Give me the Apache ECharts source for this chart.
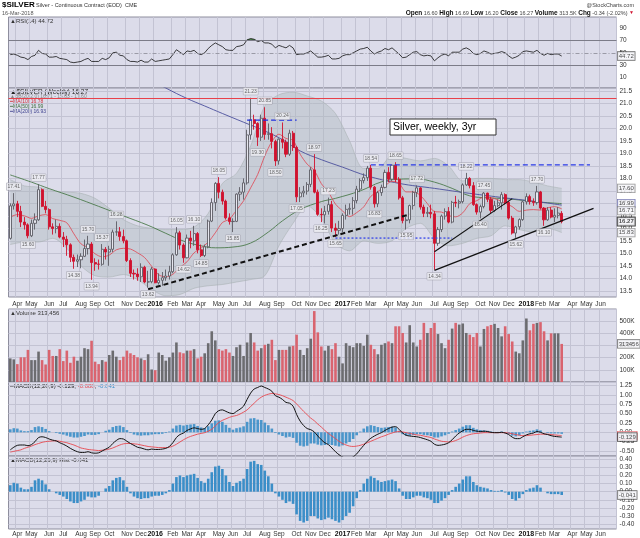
<!DOCTYPE html>
<html>
<head>
<meta charset="utf-8">
<script src="https://cdn.jsdelivr.net/npm/echarts@6/dist/echarts.min.js"></script>
<style>
html,body{margin:0;padding:0;background:#ffffff;}
#chart{width:640px;height:538px;}
</style>
</head>
<body>
<div id="chart"></div>
<script>
// ================= DATA =================
const startDate = '2015-03-20';   // first weekly bar (Friday)
const slotCount = 172;            // weekly slots on the axis (bars + empty space on the right)
const monthNames = ['Jan','Feb','Mar','Apr','May','Jun','Jul','Aug','Sep','Oct','Nov','Dec'];

const opens = [
15.60,16.90,16.98,16.68,16.25,16.14,15.70,16.20,16.34,17.55,
16.88,16.75,16.06,15.99,16.08,15.65,15.56,15.34,14.84,14.68,
14.74,14.88,15.19,15.37,14.63,14.57,14.56,15.16,15.05,15.16,
15.85,15.86,15.67,15.50,14.71,14.20,14.17,14.06,14.44,13.85,
13.86,14.37,13.82,13.92,14.02,14.09,14.26,14.94,15.82,15.33,
14.82,15.61,15.50,15.79,15.14,14.91,15.26,16.29,17.03,17.80,
17.45,17.09,16.42,16.27,16.28,17.37,17.45,17.82,19.74,20.35,
20.20,19.65,20.41,19.76,19.79,19.48,18.70,19.57,19.45,18.97,
19.81,19.24,17.26,17.42,17.49,17.76,18.34,17.45,16.56,16.54,
16.68,16.95,16.01,15.92,15.99,16.52,16.76,16.80,17.11,17.57,
17.91,18.03,18.41,17.65,16.98,17.43,17.64,18.24,17.97,18.53,
17.96,17.22,16.31,16.34,16.91,17.44,17.62,16.85,16.60,16.64,
16.58,15.40,15.95,16.49,16.67,16.25,17.04,17.01,17.07,17.74,
18.00,17.71,16.95,16.65,16.87,17.41,17.16,16.72,16.91,17.02,
17.35,17.04,16.41,15.81,16.06,16.35,17.06,17.27,17.07,17.03,
17.46,16.81,16.34,16.73,16.45,16.52,16.60];
const highs = [
17.00,17.41,17.10,16.90,16.45,16.20,16.35,16.60,17.77,17.60,
17.10,16.80,16.20,16.35,16.20,15.85,15.70,15.40,14.95,14.95,
15.00,15.55,15.70,15.45,14.80,14.75,15.37,15.25,15.30,15.95,
16.28,16.05,15.95,15.55,14.80,14.35,14.40,14.60,14.50,14.30,
14.45,14.40,14.20,14.25,14.35,14.50,15.00,16.05,15.90,15.40,
15.75,15.90,16.10,15.85,15.35,15.35,16.35,17.20,17.85,18.05,
17.55,17.15,16.60,16.40,17.40,17.65,18.00,19.95,21.23,20.55,
20.25,20.55,20.85,20.20,20.05,19.55,19.60,20.24,19.55,19.95,
19.90,19.30,17.65,17.70,17.85,18.45,18.97,17.55,16.80,16.90,
17.23,17.10,16.20,16.30,16.60,16.95,17.00,17.25,17.70,18.00,
18.20,18.50,18.54,17.70,17.50,17.75,18.35,18.45,18.55,18.65,
18.05,17.30,16.45,16.95,17.50,17.72,17.65,16.95,16.85,16.95,
16.70,16.05,16.55,16.80,16.85,17.10,17.30,17.15,17.80,18.22,
18.05,17.85,17.00,16.95,17.45,17.43,17.25,17.10,17.15,17.45,
17.40,17.10,16.50,16.10,16.40,17.10,17.40,17.35,17.20,17.70,
17.50,16.85,16.85,16.85,16.80,16.85,16.69];
const lows = [
15.55,16.75,16.45,16.05,15.95,15.60,15.65,15.95,16.30,16.85,
16.60,15.95,15.75,15.80,15.60,15.25,14.90,14.65,14.38,14.45,
14.40,14.85,14.95,13.94,14.30,14.35,14.50,14.75,14.50,15.05,
15.70,15.50,15.40,14.65,14.05,13.95,13.90,13.85,13.80,13.62,
13.80,13.80,13.75,13.70,13.90,13.95,14.20,14.90,15.15,14.62,
14.80,15.20,15.30,15.00,14.85,14.85,15.20,16.25,16.70,17.20,
16.95,16.35,16.15,15.85,16.25,17.10,17.15,17.75,19.55,19.95,
19.30,19.50,19.55,19.55,19.20,18.50,18.55,19.20,18.85,18.90,
19.10,17.05,17.05,17.25,17.35,17.65,17.40,16.50,16.25,16.20,
16.55,15.85,15.65,15.75,15.85,16.35,16.55,16.55,17.00,17.45,
17.80,17.90,17.55,16.83,16.85,17.30,17.60,17.85,17.90,17.85,
17.15,16.20,15.95,16.20,16.75,17.25,16.75,16.45,16.45,16.40,
14.34,15.30,15.85,16.35,16.20,16.20,16.85,16.80,17.00,17.70,
17.60,16.90,16.55,16.40,16.80,17.05,16.60,16.65,16.85,16.75,
16.95,16.35,15.75,15.62,15.95,16.30,16.95,16.95,16.90,16.95,
16.75,16.10,16.30,16.40,16.25,16.40,16.20];
const closes = [
16.90,16.98,16.68,16.25,16.14,15.70,16.20,16.34,17.55,16.88,
16.75,16.06,15.99,16.08,15.65,15.56,15.34,14.84,14.68,14.74,
14.88,15.19,15.37,14.63,14.57,14.56,15.16,15.05,15.16,15.85,
15.86,15.67,15.50,14.71,14.20,14.17,14.06,14.44,13.85,13.86,
14.37,13.82,13.92,14.02,14.09,14.26,14.94,15.82,15.33,14.82,
15.61,15.50,15.79,15.14,14.91,15.26,16.29,17.03,17.80,17.45,
17.09,16.42,16.27,16.28,17.37,17.45,17.82,19.74,20.35,20.20,
19.65,20.41,19.76,19.79,19.48,18.70,19.57,19.45,18.97,19.81,
19.24,17.26,17.42,17.49,17.76,18.34,17.45,16.56,16.54,16.68,
16.95,16.01,15.92,15.99,16.52,16.76,16.80,17.11,17.57,17.91,
18.03,18.41,17.65,16.98,17.43,17.64,18.24,17.97,18.53,17.96,
17.22,16.31,16.34,16.91,17.44,17.62,16.85,16.60,16.64,16.58,
15.40,15.95,16.49,16.67,16.25,17.04,17.01,17.07,17.74,18.00,
17.71,16.95,16.65,16.87,17.41,17.16,16.72,16.91,17.02,17.35,
17.04,16.41,15.81,16.06,16.35,17.06,17.27,17.07,17.03,17.46,
16.81,16.34,16.73,16.45,16.52,16.61,16.27];
const volumesK = [
194,186,147,203,203,264,180,180,250,180,
144,264,214,214,270,172,258,158,208,175,
208,278,270,339,167,147,180,167,222,258,
208,180,208,258,236,222,203,194,180,228,
103,97,242,222,175,203,242,325,244,236,
258,258,270,194,208,236,319,417,342,270,
258,270,242,214,286,306,214,325,403,325,
258,278,306,314,347,180,264,264,264,292,
297,389,264,222,278,356,583,408,292,258,
297,270,319,208,153,319,297,286,319,319,
297,389,306,270,228,306,319,333,319,458,
458,403,325,467,325,292,347,486,403,444,
486,394,319,278,347,439,486,472,481,403,
389,369,403,292,436,458,469,478,444,375,
458,394,333,250,236,342,522,425,478,486,
492,417,342,400,400,400,313];
const rsi = [
47,48,46,43,42,39,44,46,54,49,
48,43,43,44,41,40,39,35,34,35,
36,39,41,36,36,36,41,39,42,50,
51,46,45,39,36,36,35,38,35,35,
40,36,37,38,39,40,47,55,51,47,
53,52,54,49,47,50,57,62,66,63,
60,55,54,54,60,61,63,71,73,72,
68,70,66,66,64,58,62,60,58,62,
58,47,48,48,50,53,48,43,43,44,
46,40,40,41,45,47,47,50,53,56,
57,59,53,48,51,53,57,55,58,53,
48,42,43,47,51,52,47,45,46,45,
37,42,46,48,45,51,51,51,56,58,
55,49,47,49,53,51,48,49,50,52,
50,45,41,43,46,52,53,52,51,54,
49,46,49,47,48,48,44.72];
const macd = [
-0.47,-0.40,-0.35,-0.34,-0.34,-0.36,-0.33,-0.25,-0.14,-0.12,
-0.14,-0.18,-0.21,-0.23,-0.28,-0.32,-0.37,-0.43,-0.48,-0.52,
-0.54,-0.54,-0.52,-0.55,-0.56,-0.55,-0.50,-0.45,-0.40,-0.30,
-0.22,-0.17,-0.18,-0.24,-0.30,-0.35,-0.40,-0.42,-0.45,-0.47,
-0.45,-0.46,-0.46,-0.45,-0.43,-0.38,-0.28,-0.14,-0.06,-0.02,
0.05,0.09,0.12,0.10,0.08,0.10,0.20,0.33,0.50,0.58,
0.60,0.56,0.52,0.50,0.56,0.62,0.70,0.88,1.05,1.16,
1.20,1.24,1.20,1.16,1.10,0.98,0.94,0.88,0.80,0.78,
0.70,0.48,0.30,0.18,0.10,0.07,0.01,-0.10,-0.20,-0.28,
-0.33,-0.42,-0.52,-0.60,-0.66,-0.70,-0.70,-0.66,-0.58,-0.46,
-0.35,-0.24,-0.16,-0.10,-0.05,-0.01,0.05,0.10,0.14,0.15,
0.08,-0.02,-0.08,-0.10,-0.11,-0.12,-0.14,-0.17,-0.20,-0.24,
-0.32,-0.35,-0.34,-0.32,-0.28,-0.20,-0.10,-0.02,0.04,0.08,
0.08,0.05,0.03,0.02,0.03,0.02,0.00,-0.01,-0.01,0.00,
-0.02,-0.06,-0.13,-0.17,-0.17,-0.12,-0.07,-0.04,-0.02,0.02,
0.00,-0.04,-0.06,-0.09,-0.11,-0.12,-0.129];
const signal = [
-0.53,-0.51,-0.49,-0.47,-0.43,-0.40,-0.37,-0.33,-0.30,-0.27,
-0.25,-0.24,-0.23,-0.23,-0.24,-0.26,-0.28,-0.31,-0.34,-0.38,
-0.42,-0.44,-0.46,-0.47,-0.48,-0.49,-0.48,-0.47,-0.45,-0.42,
-0.38,-0.34,-0.31,-0.30,-0.30,-0.31,-0.32,-0.34,-0.36,-0.38,
-0.39,-0.40,-0.41,-0.41,-0.41,-0.40,-0.37,-0.32,-0.26,-0.20,
-0.15,-0.11,-0.08,-0.05,-0.03,-0.01,0.03,0.08,0.17,0.26,
0.32,0.36,0.40,0.43,0.45,0.49,0.54,0.60,0.69,0.78,
0.87,0.94,0.99,1.02,1.04,1.03,1.01,0.98,0.94,0.90,
0.85,0.76,0.66,0.56,0.47,0.38,0.31,0.22,0.14,0.05,
-0.03,-0.10,-0.17,-0.24,-0.30,-0.34,-0.37,-0.38,-0.37,-0.35,
-0.32,-0.28,-0.24,-0.20,-0.16,-0.12,-0.09,-0.05,-0.02,0.01,
0.02,0.01,-0.01,-0.03,-0.05,-0.07,-0.08,-0.10,-0.12,-0.14,
-0.18,-0.21,-0.24,-0.25,-0.26,-0.25,-0.22,-0.18,-0.13,-0.09,
-0.06,-0.04,-0.03,-0.02,-0.01,-0.01,-0.01,-0.01,-0.01,-0.01,
-0.01,-0.02,-0.04,-0.06,-0.08,-0.09,-0.09,-0.08,-0.07,-0.06,
-0.05,-0.05,-0.05,-0.06,-0.07,-0.08,-0.088];
const hist = [
0.08,0.11,0.10,0.05,0.03,0.03,0.06,0.14,0.16,0.14,
0.09,0.03,0.00,-0.02,-0.04,-0.06,-0.09,-0.12,-0.14,-0.14,
-0.12,-0.10,-0.06,-0.07,-0.07,-0.05,0.00,0.04,0.07,0.14,
0.17,0.18,0.14,0.06,-0.02,-0.06,-0.08,-0.09,-0.08,-0.08,
-0.06,-0.05,-0.05,-0.04,-0.02,0.02,0.10,0.18,0.20,0.18,
0.20,0.21,0.22,0.17,0.13,0.11,0.16,0.24,0.31,0.32,
0.28,0.20,0.12,0.07,0.11,0.13,0.16,0.28,0.37,0.38,
0.34,0.33,0.26,0.19,0.10,-0.02,-0.06,-0.10,-0.14,-0.12,
-0.15,-0.28,-0.36,-0.38,-0.36,-0.30,-0.30,-0.33,-0.35,-0.34,
-0.32,-0.34,-0.36,-0.38,-0.35,-0.30,-0.26,-0.18,-0.08,0.02,
0.10,0.16,0.19,0.17,0.14,0.12,0.13,0.14,0.15,0.13,
0.04,-0.05,-0.09,-0.09,-0.07,-0.05,-0.05,-0.07,-0.08,-0.10,
-0.14,-0.14,-0.11,-0.08,-0.04,0.02,0.06,0.10,0.15,0.19,
0.19,0.12,0.08,0.06,0.05,0.04,0.02,0.01,0.01,0.02,
-0.01,-0.04,-0.09,-0.11,-0.08,-0.03,0.02,0.04,0.05,0.08,
0.05,0.00,-0.02,-0.03,-0.03,-0.03,-0.041];

// overlay lines: [week index, price]
const ma10Pts = [[0,16.45],[2,16.55],[4,16.5],[6,16.4],[8,16.5],[10,16.55],[12,16.39],[14,16.32],[16,16.22],[18,15.78],[20,15.38],[22,15.23],[24,14.98],[26,14.86],[28,14.93],[30,15.14],[32,15.2],[34,15.17],[36,15.02],[38,14.83],[40,14.48],[42,14.14],[44,14.06],[46,14.16],[48,14.44],[50,14.66],[52,15.02],[54,15.21],[56,15.45],[58,15.82],[60,16.23],[62,16.37],[64,16.73],[66,17.1],[68,17.62],[70,18.16],[72,18.9],[74,19.47],[76,19.77],[78,19.6],[80,19.52],[82,18.97],[84,18.57],[86,18.32],[88,17.79],[90,17.45],[92,16.97],[94,16.7],[96,16.47],[98,16.63],[100,16.86],[102,17.28],[104,17.47],[106,17.7],[108,17.88],[110,17.8],[112,17.46],[114,17.46],[116,17.32],[118,16.99],[120,16.67],[122,16.65],[124,16.51],[126,16.46],[128,16.62],[130,16.99],[132,17.11],[134,17.25],[136,17.23],[138,17.14],[140,17.01],[142,16.87],[144,16.68],[146,16.73],[148,16.75],[150,16.73],[152,16.82],[154,16.87],[156,16.78]];
const ma50Pts = [[0,18.14],[6,17.85],[11,17.59],[18,17.25],[25,16.88],[32,16.5],[39,16.12],[44,15.8],[49,15.49],[54,15.3],[58,15.22],[63,15.25],[68,15.41],[73,15.85],[77,16.3],[82,16.75],[88,17.07],[92,17.2],[99,17.5],[105,17.86],[110,17.97],[115,17.98],[120,17.85],[125,17.6],[130,17.3],[135,17.22],[140,17.19],[145,17.12],[150,17.05],[156,16.99]];
const ma200Pts = [[40,21.95],[44,21.62],[50,21.2],[55,20.9],[60,20.6],[66,20.25],[72,19.9],[77,19.55],[82,19.1],[88,18.75],[94,18.45],[101,18.1],[110,17.8],[120,17.6],[130,17.4],[140,17.22],[150,17.05],[156,16.93]];
const bbUpperPts = [[0,17.95],[4,17.7],[8,17.65],[12,17.5],[16,17.45],[20,17.4],[24,17.2],[28,16.8],[32,16.35],[36,16.1],[40,16.0],[44,15.95],[48,15.95],[52,16.05],[56,16.6],[60,17.8],[64,18.2],[68,19.3],[72,20.9],[76,21.35],[80,21.45],[84,21.3],[88,21.1],[92,20.6],[96,19.5],[100,18.4],[104,18.4],[108,18.9],[112,18.8],[116,18.7],[120,18.8],[124,18.5],[128,17.9],[132,18.0],[136,18.0],[140,17.95],[144,17.95],[148,17.85],[152,17.7],[156,17.6]];
const bbLowerPts = [[0,15.35],[4,15.45],[8,15.45],[12,15.6],[16,15.2],[20,14.5],[24,14.1],[28,14.05],[32,14.15],[36,13.95],[40,13.55],[44,13.3],[48,13.35],[52,13.6],[56,13.7],[60,13.75],[64,13.85],[68,13.95],[72,14.1],[76,15.3],[80,16.2],[84,16.9],[88,16.4],[92,15.4],[96,15.1],[100,15.5],[104,15.4],[108,15.5],[112,16.0],[116,16.2],[120,15.6],[124,15.3],[128,15.4],[132,15.6],[136,15.7],[140,16.1],[144,15.95],[148,15.85],[152,16.0],[156,15.83]];
const bbMidLast = 16.71;

// annotations drawn on the price panel: [week index, price]
const redLevel = 21.21;
const trendDashed = [[39,13.56],[113,16.56]];
const trendSolidA = [[120,15.06],[142,17.19]];
const trendSolidB = [[120,14.32],[165,16.80]];
const resistShort = [[67,20.33],[81,20.33]];
const resistLong = [[102,18.54],[164,18.54]];
const supportDotted = [[92,15.61],[125,15.61]];

// pivot value labels
const pivotHighs = [[1,17.41],[8,17.77],[22,15.70],[26,15.37],[30,16.28],[47,16.05],[52,16.10],[59,18.05],[68,21.23],[72,20.85],[77,20.24],[86,18.97],[90,17.23],[102,18.54],[109,18.65],[115,17.72],[129,18.22],[134,17.45],[149,17.70]];
const pivotLows = [[5,15.60],[18,14.38],[23,13.94],[39,13.62],[49,14.62],[54,14.85],[63,15.85],[70,19.30],[75,18.50],[81,17.05],[88,16.25],[92,15.65],[103,16.83],[112,15.95],[120,14.34],[133,16.40],[143,15.62],[151,16.10]];

// axis tick labels
const rsiTicks = [10,30,50,70,90];
const priceTicks = [13.5,14.0,14.5,15.0,15.5,16.0,16.5,17.0,17.5,18.0,18.5,19.0,19.5,20.0,20.5,21.0,21.5];
const macdTicks = [-0.5,-0.25,0,0.25,0.5,0.75,1.0,1.25];
const histTicks = [-0.4,-0.3,-0.2,-0.1,0,0.1,0.2,0.3,0.4];

// ================= BUILD =================
const categories = [];
(function(){
  const t0 = Date.parse(startDate + 'T00:00:00Z');
  for (let i = 0; i < slotCount; i++) categories.push(new Date(t0 + i * 7 * 864e5).toISOString().slice(0, 10));
})();
const isMonthStart = (i) => i > 0 && categories[i].slice(5, 7) !== categories[i - 1].slice(5, 7);
const lastSlot = slotCount - 1;
const nBars = closes.length;

const FONT = '"Liberation Sans", Arial, sans-serif';
const BG = '#dcdcea';
const GRIDC = '#c3c3d3';
const BORDER = '#8e8e9e';
const RED = '#d0122e';
const VRED = '#d9646f';
const VGRAY = '#6c6c70';
const BLUE = '#3b8ec8';

const L = 8.5, W = 608;
const grids = [
  {top: 17, height: 71},
  {top: 88, height: 209},
  {top: 309, height: 73},
  {top: 382, height: 74},
  {top: 456, height: 74}
].map(g => Object.assign({left: L, width: W, show: true, backgroundColor: BG, borderColor: BORDER, borderWidth: 1}, g));

function mkX(gi, showLabel, margin) {
  return {
    type: 'category', gridIndex: gi, data: categories, boundaryGap: true,
    axisLine: {show: false}, axisTick: {show: false},
    axisLabel: {
      show: showLabel, margin: margin, fontSize: 6.5, color: '#333', fontFamily: FONT,
      interval: (i) => isMonthStart(i),
      formatter: (v) => {
        const m = +v.slice(5, 7);
        return m === 1 ? '{y|' + v.slice(0, 4) + '}' : monthNames[m - 1];
      },
      rich: {y: {fontWeight: 'bold', fontSize: 7, color: '#111', fontFamily: FONT}}
    },
    splitLine: {show: true, interval: (i) => isMonthStart(i), lineStyle: {color: GRIDC, width: 1}}
  };
}
function mkY(gi, o) {
  return Object.assign({
    type: 'value', gridIndex: gi, position: 'right', scale: false,
    axisLine: {show: false},
    axisLabel: {fontSize: 6.5, color: '#333', margin: 3, fontFamily: FONT},
    splitLine: {show: true, lineStyle: {color: GRIDC, width: 1}}
  }, o);
}

const candleData = opens.map((o, i) => [o, closes[i], lows[i], highs[i]]);
const volData = volumesK.map((v, i) => ({
  value: v,
  itemStyle: {color: closes[i] < (i ? closes[i - 1] : opens[0]) ? VRED : VGRAY}
}));
const bbDiff = bbUpperPts.map((p, k) => [p[0], +(p[1] - bbLowerPts[k][1]).toFixed(3)]);
const rsiAbove = rsi.map(v => Math.max(v, 70));

function annot(data, color, width, type) {
  return {type: 'line', xAxisIndex: 1, yAxisIndex: 1, data: data, symbol: 'none', silent: true, z: 6,
    lineStyle: {color: color, width: width, type: type}};
}
function tag(xi, yi, value, text, border, bold) {
  return {type: 'scatter', xAxisIndex: xi, yAxisIndex: yi, data: [[lastSlot, value]], symbolSize: 0, silent: true, z: 10,
    label: {show: true, position: 'right', distance: 3, formatter: text, fontSize: 6, fontFamily: FONT,
      color: '#222', fontWeight: bold ? 'bold' : 'normal', backgroundColor: '#f4f4f8',
      borderColor: border, borderWidth: bold ? 1 : 0.7, padding: [1, 1]}};
}
function pivotSeries(data, pos) {
  return {type: 'scatter', xAxisIndex: 1, yAxisIndex: 1, data: data, symbolSize: 0, silent: true, z: 7,
    label: {show: true, position: pos, distance: 3, formatter: (p) => p.value[1].toFixed(2),
      fontSize: 5, fontFamily: FONT, color: '#444', backgroundColor: '#eeeef2', borderColor: '#9a9aa6',
      borderWidth: 0.5, padding: [1, 1]}};
}

const option = {
  animation: false,
  backgroundColor: '#ffffff',
  grid: grids,
  xAxis: [mkX(0, false, 0), mkX(1, true, 4), mkX(2, false, 0), mkX(3, false, 0), mkX(4, true, 2)],
  yAxis: [
    mkY(0, {min: -7, max: 108, splitLine: {show: false},
      axisTick: {show: false, customValues: rsiTicks}, axisLabel: {fontSize: 6.5, color: '#333', margin: 3, fontFamily: FONT, customValues: rsiTicks}}),
    mkY(1, {min: 13.25, max: 21.62,
      axisTick: {show: false, customValues: priceTicks},
      axisLabel: {fontSize: 6.5, color: '#333', margin: 3, fontFamily: FONT, customValues: priceTicks, formatter: (v) => v.toFixed(1)}}),
    mkY(2, {min: 0, max: 600, interval: 100, axisTick: {show: false},
      axisLabel: {fontSize: 6.5, color: '#333', margin: 3, fontFamily: FONT, formatter: (v) => (v === 0 || v === 600) ? '' : v + 'K'}}),
    mkY(3, {min: -0.635, max: 1.347,
      axisTick: {show: false, customValues: macdTicks},
      axisLabel: {fontSize: 6.5, color: '#333', margin: 3, fontFamily: FONT, customValues: macdTicks, formatter: (v) => v.toFixed(2)}}),
    mkY(4, {min: -0.46, max: 0.44,
      axisTick: {show: false, customValues: histTicks},
      axisLabel: {fontSize: 6.5, color: '#333', margin: 3, fontFamily: FONT, customValues: histTicks, formatter: (v) => v.toFixed(2)}})
  ],
  series: [
    // ----- RSI -----
    {type: 'line', xAxisIndex: 0, yAxisIndex: 0, data: rsiAbove, symbol: 'none', silent: true, z: 2,
      lineStyle: {width: 0}, areaStyle: {color: '#3f7a3f', opacity: 0.9, origin: 70}},
    {type: 'line', xAxisIndex: 0, yAxisIndex: 0, data: rsi, symbol: 'none', silent: true, z: 3,
      lineStyle: {color: '#111', width: 0.8},
      markLine: {silent: true, symbol: 'none', label: {show: false},
        data: [
          {yAxis: 70, lineStyle: {color: '#7c7c88', width: 1, type: 'solid'}},
          {yAxis: 30, lineStyle: {color: '#7c7c88', width: 1, type: 'solid'}},
          {yAxis: 50, lineStyle: {color: '#9a9aa6', width: 1, type: [4, 2, 1, 2]}}
        ]}},
    // ----- Bollinger band -----
    {type: 'line', xAxisIndex: 1, yAxisIndex: 1, data: bbLowerPts, stack: 'bb', symbol: 'none', smooth: 0.3, silent: true, z: 1,
      lineStyle: {color: '#a9b1b3', width: 0.6}},
    {type: 'line', xAxisIndex: 1, yAxisIndex: 1, data: bbDiff, stack: 'bb', symbol: 'none', smooth: 0.3, silent: true, z: 1,
      lineStyle: {color: '#a9b1b3', width: 0.6}, areaStyle: {color: 'rgba(168,182,184,0.55)'}},
    // ----- moving averages -----
    {type: 'line', xAxisIndex: 1, yAxisIndex: 1, data: ma50Pts, symbol: 'none', smooth: 0.4, silent: true, z: 2,
      lineStyle: {color: '#4c7a4c', width: 0.9}},
    {type: 'line', xAxisIndex: 1, yAxisIndex: 1, data: ma200Pts, symbol: 'none', smooth: 0.4, silent: true, z: 2,
      lineStyle: {color: '#4b4f9c', width: 0.9}},
    {type: 'line', xAxisIndex: 1, yAxisIndex: 1, data: ma10Pts, symbol: 'none', smooth: 0.3, silent: true, z: 2,
      lineStyle: {color: '#e0424f', width: 0.8}},
    // ----- candles -----
    {type: 'candlestick', xAxisIndex: 1, yAxisIndex: 1, data: candleData, barWidth: 2.6, silent: true, z: 4,
      itemStyle: {color: '#e6e6ee', color0: RED, borderColor: '#5c5c64', borderColor0: RED, borderWidth: 0.9},
      markLine: {silent: true, symbol: 'none', label: {show: false},
        data: [{yAxis: redLevel, lineStyle: {color: '#e8404a', width: 1.2, type: 'solid'}}]}},
    // ----- drawn annotations -----
    annot(trendDashed, '#111', 2, [5, 3]),
    annot(trendSolidA, '#111', 1.1, 'solid'),
    annot(trendSolidB, '#111', 1.3, 'solid'),
    annot(resistShort, '#1f2fe0', 1.3, [5, 3]),
    annot(resistLong, '#2a3ae6', 1.3, [5, 3]),
    annot(supportDotted, '#3444e8', 1.3, [2, 2]),
    pivotSeries(pivotHighs, 'top'),
    pivotSeries(pivotLows, 'bottom'),
    tag(1, 1, bbUpperPts[bbUpperPts.length - 1][1], '17.60', '#777', false),
    tag(1, 1, ma50Pts[ma50Pts.length - 1][1], '16.99', '#4b4f9c', false),
    tag(1, 1, bbMidLast, '16.71', '#777', false),
    tag(1, 1, closes[nBars - 1], '16.27', '#111', true),
    tag(1, 1, bbLowerPts[bbLowerPts.length - 1][1], '15.83', '#777', false),
    // ----- volume -----
    {type: 'bar', xAxisIndex: 2, yAxisIndex: 2, data: volData, barWidth: 2.6, silent: true, z: 2},
    tag(2, 2, volumesK[nBars - 1], '313456', '#444', false),
    // ----- MACD -----
    {type: 'bar', xAxisIndex: 3, yAxisIndex: 3, data: hist, barWidth: 2.6, silent: true, z: 1,
      itemStyle: {color: BLUE, opacity: 0.9}},
    {type: 'line', xAxisIndex: 3, yAxisIndex: 3, data: signal, symbol: 'none', smooth: 0.3, silent: true, z: 3,
      lineStyle: {color: '#e8474e', width: 0.9}},
    {type: 'line', xAxisIndex: 3, yAxisIndex: 3, data: macd, symbol: 'none', smooth: 0.3, silent: true, z: 4,
      lineStyle: {color: '#111', width: 1}},
    tag(3, 3, signal[nBars - 1], '-0.088', '#e8474e', false),
    tag(3, 3, macd[nBars - 1], '-0.129', '#111', false),
    // ----- MACD histogram -----
    {type: 'bar', xAxisIndex: 4, yAxisIndex: 4, data: hist, barWidth: 2.6, silent: true, z: 2,
      itemStyle: {color: BLUE}},
    tag(4, 4, hist[nBars - 1], '-0.041', '#444', false),
    // ----- RSI tag -----
    tag(0, 0, rsi[nBars - 1], '44.72', '#444', false)
  ],
  graphic: [
    {type: 'text', x: 2, y: 5, style: {text: '$SILVER', font: 'bold 8px ' + FONT, fill: '#000', verticalAlign: 'middle'}},
    {type: 'text', x: 36, y: 5, style: {text: 'Silver - Continuous Contract (EOD)  CME', font: '5.5px ' + FONT, fill: '#333', verticalAlign: 'middle'}},
    {type: 'text', x: 2, y: 13, style: {text: '16-Mar-2018', font: '5.5px ' + FONT, fill: '#555', verticalAlign: 'middle'}},
    {type: 'text', x: 634, y: 5, style: {text: '@StockCharts.com', font: '5.5px ' + FONT, fill: '#444', align: 'right', verticalAlign: 'middle'}},
    {type: 'text', x: 634, y: 13, style: {
      text: '{k|Open} 16.60 {k|High} 16.69 {k|Low} 16.20 {k|Close} 16.27 {k|Volume} 313.5K {k|Chg} -0.34 (-2.02%) {r|▼}',
      font: '5.5px ' + FONT, fill: '#444', align: 'right', verticalAlign: 'middle',
      rich: {k: {fontWeight: 'bold', fontSize: 6.5, fill: '#111', fontFamily: FONT}, r: {fill: '#d0122e', fontSize: 5}}}},
    // RSI legend
    {type: 'text', x: 10, y: 21, style: {text: '▲RSI(14) 44.72', font: '6px ' + FONT, fill: '#333', verticalAlign: 'middle'}},
    // price legend
    {type: 'text', x: 10, y: 92, style: {text: '▲$SILVER (Weekly) 16.27', font: '6.5px ' + FONT, fill: '#222', verticalAlign: 'middle'}},
    {type: 'text', x: 10, y: 97, style: {text: '▲BB(20,2.0) 16.71 - 15.83 - 17.60', font: '5px ' + FONT, fill: '#888', verticalAlign: 'middle'}},
    {type: 'text', x: 10, y: 102, style: {text: '━MA(10) 16.78', font: '5px ' + FONT, fill: '#d0303c', verticalAlign: 'middle'}},
    {type: 'text', x: 10, y: 107, style: {text: '━MA(50) 16.99', font: '5px ' + FONT, fill: '#3f6f3f', verticalAlign: 'middle'}},
    {type: 'text', x: 10, y: 112, style: {text: '━MA(200) 16.93', font: '5px ' + FONT, fill: '#3f438f', verticalAlign: 'middle'}},
    // annotation box
    {type: 'rect', shape: {x: 390, y: 119, width: 106, height: 16}, style: {fill: '#ffffff', stroke: '#333', lineWidth: 1}, z: 20},
    {type: 'text', x: 393, y: 127.5, style: {text: 'Silver, weekly, 3yr', font: '10.5px ' + FONT, fill: '#000', verticalAlign: 'middle'}, z: 21},
    // volume legend
    {type: 'text', x: 10, y: 313, style: {text: '▲Volume 313,456', font: '6px ' + FONT, fill: '#333', verticalAlign: 'middle'}},
    // MACD legend
    {type: 'text', x: 10, y: 386, style: {
      text: '{a|━MACD(12,26,9) -0.129}, {b|-0.088}, {c|-0.041}', font: '6px ' + FONT, verticalAlign: 'middle',
      rich: {a: {fill: '#222', fontSize: 6, fontFamily: FONT}, b: {fill: '#e04550', fontSize: 6, fontFamily: FONT}, c: {fill: '#3b8ec8', fontSize: 6, fontFamily: FONT}}}},
    // hist legend
    {type: 'text', x: 10, y: 460, style: {text: '▲MACD(12,26,9) Hist -0.041', font: '6px ' + FONT, fill: '#333', verticalAlign: 'middle'}}
  ]
};

const chart = echarts.init(document.getElementById('chart'), null, {renderer: 'canvas', width: 640, height: 538});
chart.setOption(option);
</script>
</body>
</html>
